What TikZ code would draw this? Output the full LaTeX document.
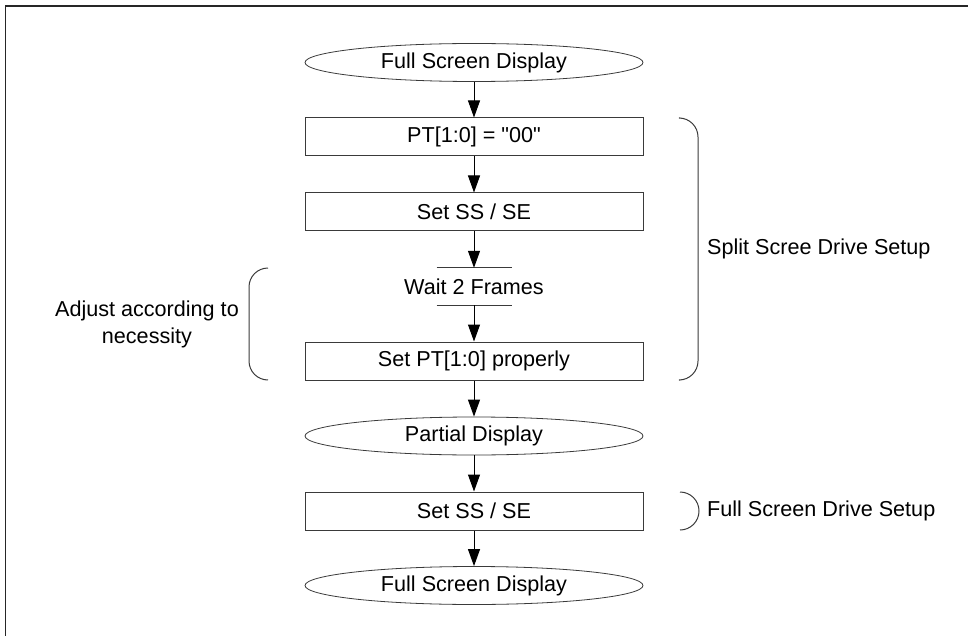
\documentclass[tikz,border=0pt]{standalone}
\usepackage{fontspec}
\setmainfont{Liberation Sans}[Ligatures=TeXReset]
\usetikzlibrary{arrows.meta,shapes.geometric}
\definecolor{edge}{HTML}{3A3A3A}
\tikzset{
  txt/.style={font=\fontsize{21.6}{27}\selectfont, text=black, inner sep=0pt},
  stepbox/.style={txt, draw=edge, line width=1pt, minimum width=338pt, minimum height=38pt},
  terminal/.style={txt, ellipse, draw=edge, line width=0.8pt, minimum width=338pt, minimum height=38pt},
  flow/.style={-{Triangle[length=17pt,width=12pt]}, line width=1pt, draw=black},
  bracket/.style={draw=edge, line width=1pt, rounded corners=19pt},
}
\begin{document}
\begin{tikzpicture}[x=1pt,y=-1pt]
\useasboundingbox (0,0) rectangle (968,636);
% frame edges
\draw[line width=1.6pt, draw=black!85] (5.5,636) -- (5.5,6) -- (968,6);

% flow chart
\node[terminal] (start) at (474,62.5) {Full Screen Display};
\node[stepbox] (pt) at (474,137) {PT[1:0] = "00"};
\node[stepbox] (ss1) at (474,212) {Set SS / SE};
\node[txt, minimum height=37pt] (wait) at (474,286.5) {Wait 2 Frames};
\node[stepbox] (ptset) at (474,361) {Set PT[1:0] properly};
\node[terminal] (partial) at (474,436) {Partial Display};
\node[stepbox] (ss2) at (474,511) {Set SS / SE};
\node[terminal] (final) at (474,585.5) {Full Screen Display};

% wait marker lines
\draw[draw=edge, line width=1pt] ([xshift=-37.5pt]wait.north) -- ([xshift=37.5pt]wait.north);
\draw[draw=edge, line width=1pt] ([xshift=-37.5pt]wait.south) -- ([xshift=37.5pt]wait.south);

% connectors
\draw[flow] (start) -- (pt);
\draw[flow] (pt) -- (ss1);
\draw[flow] (ss1) -- (wait);
\draw[flow] (wait) -- (ptset);
\draw[flow] (ptset) -- (partial);
\draw[flow] (partial) -- (ss2);
\draw[flow] (ss2) -- (final);

% brackets
\draw[bracket] (680,118) -- (698,118) -- (698,380) -- (680,380);
\draw[bracket] (268,268) -- (249,268) -- (249,380) -- (268,380);
\draw[bracket] (680,492) -- (699,492) -- (699,530) -- (680,530);

% bracket labels
\node[txt, anchor=west] (splitlbl) at (707,249) {Split Scree Drive Setup};
\node[txt, anchor=west] (fulllbl) at (707,511) {Full Screen Drive Setup};
\node[txt, align=center, anchor=east] (adjlbl) at (239,324) {Adjust according to\\necessity};
\end{tikzpicture}
\end{document}
